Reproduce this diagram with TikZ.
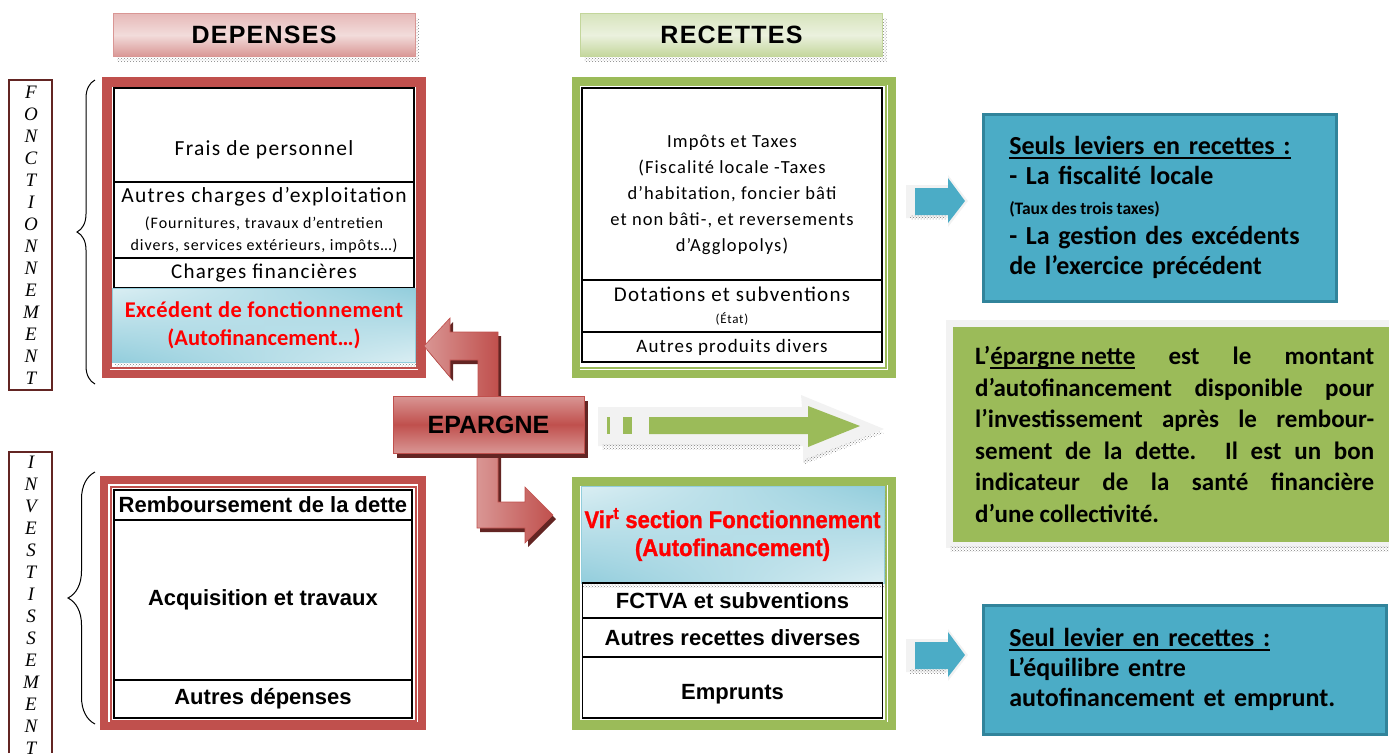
\documentclass[tikz,border=0pt]{standalone}
\usepackage{fontspec}
\setmainfont{Carlito}
\newfontfamily\calf{Carlito}[LetterSpace=6]
\newfontfamily\arialf{Liberation Sans}
\newfontfamily\arialsp{Liberation Sans}[LetterSpace=5]
\newfontfamily\virf{Liberation Sans}[FakeStretch=0.92,BoldFeatures={FakeBold=1.2}]
\newfontfamily\lettref{Liberation Serif}
\usetikzlibrary{positioning,patterns,shadows,shadings,decorations.pathreplacing}

\definecolor{rouge}{HTML}{C0504D}
\definecolor{rougec}{HTML}{D99694}
\definecolor{rougep}{HTML}{F2DCDB}
\definecolor{rosem}{HTML}{E6B9B8}
\definecolor{rougef}{HTML}{632523}
\definecolor{vert}{HTML}{9BBB59}
\definecolor{vertc}{HTML}{C3D69B}
\definecolor{vertm}{HTML}{D7E4BD}
\definecolor{vertp}{HTML}{EBF1DE}
\definecolor{bleu}{HTML}{4BACC6}
\definecolor{bleuf}{HTML}{31849B}
\definecolor{bleum}{HTML}{92CDDC}
\definecolor{bleup}{HTML}{DAEEF3}
\definecolor{grisc}{HTML}{F2F2F2}
\definecolor{rougetxt}{HTML}{FF0000}

\newcommand{\fsz}[2]{\fontsize{#1}{#2}\selectfont}
\newcommand{\souligne}[1]{\setbox0\hbox{#1}\rlap{\rule[-4pt]{\wd0}{1.5pt}}\box0{}}

\tikzset{
  cell/.style={draw,line width=1.6,minimum width=300,inner sep=0,outer sep=0,align=center,font=\calf\fsz{21}{25}},
  acell/.style={cell,minimum width=298,font=\arialf\bfseries\fsz{22}{25}},
  ombre/.style={pattern=crosshatch dots,pattern color=gray},
  bleucell/.style={cell,draw=bleum,line width=1,upper left=bleup,upper right=bleum,lower left=bleum,lower right=bleup,
    drop shadow={ombre,opacity=1,shadow xshift=2pt,shadow yshift=-4pt}},
  entete/.style={draw=#1,line width=1,minimum width=302,minimum height=43,inner sep=0,
    font=\arialsp\bfseries\fsz{25}{28},drop shadow={ombre,opacity=1,shadow xshift=4pt,shadow yshift=-5pt}},
  lettre/.style={inner sep=0,font=\lettref\itshape\fsz{19}{20}},
  levier/.style={draw=bleuf,line width=2.5,fill=bleu,anchor=north west,inner xsep=26,inner ysep=0,align=left,font=\bfseries\fsz{26}{30}},
  fleche/.style={draw=rouge,line width=.6,left color=rougec,right color=rouge},
}

\begin{document}
\begin{tikzpicture}[x=1pt,y=-1pt]
\useasboundingbox (0,0) rectangle (1389,753);

% en-tetes
\node[entete=rougec,top color=rosem,bottom color=rougec,middle color=rougep] (dep) at (264,35) {DEPENSES};
\node[entete=vertc,top color=vertm,bottom color=vertc,middle color=vertp] (rec) at (731.5,35) {RECETTES};

% sections
\draw[rougef,line width=1.5] (9,80) rectangle (52,390);
\foreach \l [count=\i] in {F,O,N,C,T,I,O,N,N,E,M,E,N,T}
  \node[lettre] (fonc\i) at (31,70+22*\i) {\l};
\draw[rougef,line width=1.5] (9,753) |- (52,452) -- (52,753);
\foreach \l [count=\i] in {I,N,V,E,S,T,I,S,S,E,M,E,N,T}
  \node[lettre] (inv\i) at (31,440+22*\i) {\l};
\draw[decorate,decoration={brace,amplitude=18pt},line width=1] (95,384) -- (95,80);
\draw[decorate,decoration={brace,amplitude=27pt},line width=1] (95,724) -- (95,472);

% depenses de fonctionnement
\draw[rouge,line width=8] (106,81) rectangle (422,374);
\draw[rouge,line width=1.2] (111,86) rectangle (417,368);
\node[cell,anchor=north west,minimum height=94] (frais) at (114,88) {};
\node[font=\calf\fsz{21.5}{25}] (tfrais) at ([yshift=-15pt]frais.center) {Frais de personnel};
\node[cell,minimum height=76,below=0pt of frais,font=\calf\fsz{21.5}{25}] (autch) {Autres charges d’exploitation\\[1pt]{\fsz{16}{20}(Fournitures, travaux d’entretien}\\[-3pt]{\fsz{16}{20}divers, services extérieurs, impôts…)}};
\node[cell,minimum height=30,below=0pt of autch] (chfin) {Charges financières};
\node[bleucell,minimum width=303,minimum height=74,below=0pt of chfin,font=\bfseries\fsz{22.5}{28},text=rougetxt] (exced) {{\addfontfeature{LetterSpace=2}Excédent de fonctionnement}\\(Autofinancement…)};

% recettes de fonctionnement
\draw[vert,line width=8] (576,81) rectangle (892,374);
\draw[vert,line width=1.2] (579,85) rectangle (886,368);
\node[cell,anchor=north west,minimum height=192] (impots) at (582,88) {};
\node[font=\calf\fsz{18.5}{26},align=center] (timpots) at ([yshift=-11pt]impots.center) {Impôts et Taxes\\(Fiscalité locale -Taxes\\d’habitation, foncier bâti\\et non bâti-, et reversements\\d’Agglopolys)};
\node[cell,minimum height=52,below=0pt of impots,font=\calf\fsz{21}{25}] (dotat) {Dotations et subventions\\[-3pt]{\fsz{13}{16}(État)}};
\node[cell,minimum height=30,below=0pt of dotat,font=\calf\fsz{19}{25}] (autprod) {Autres produits divers};

% depenses d'investissement
\draw[rouge,line width=8] (104,480) rectangle (422,726);
\draw[rouge,line width=1.2] (111,487) rectangle (416,721);
\node[acell,anchor=north west,minimum height=30] (rembt) at (114,490) {Remboursement de la dette};
\node[acell,minimum height=160,below=0pt of rembt] (acquis) {Acquisition et travaux};
\node[acell,minimum height=38,below=0pt of acquis] (autdep) {Autres dépenses};

% recettes d'investissement
\draw[vert,line width=8] (576,481) rectangle (892,726);
\draw[vert,line width=1.2] (579,485) rectangle (886,721);
\node[bleucell,anchor=north west,minimum width=303,minimum height=97,font=\virf\bfseries\fsz{24}{28},text=rougetxt] (vir) at (581,486) {Vir\textsuperscript{t} section Fonctionnement\\(Autofinancement)};
\node[acell,minimum width=300,minimum height=35,below=0pt of vir] (fctva) {FCTVA et subventions};
\node[acell,minimum width=300,minimum height=39,below=0pt of fctva] (autrec) {Autres recettes diverses};
\node[acell,minimum width=300,minimum height=61,below=0pt of autrec] (empr) {};
\node[font=\arialf\bfseries\fsz{22}{25}] (tempr) at ([yshift=-7pt]empr.center) {Emprunts};

% epargne
\fill[rougef,shift={(3,4)}] (478,400) -- (478,360) -- (450,360) -- (450,377) -- (424,346) -- (450,318) -- (450,332) -- (498,332) -- (498,400) -- cycle;
\fill[rougef,shift={(3,4)}] (477,450) -- (477,528) -- (525,528) -- (525,543) -- (553,515) -- (525,487) -- (525,502) -- (498,502) -- (498,450) -- cycle;
\draw[fleche] (478,400) -- (478,360) -- (450,360) -- (450,377) -- (424,346) -- (450,318) -- (450,332) -- (498,332) -- (498,400) -- cycle;
\draw[fleche] (477,450) -- (477,528) -- (525,528) -- (525,543) -- (553,515) -- (525,487) -- (525,502) -- (498,502) -- (498,450) -- cycle;
\node[draw=rouge,line width=1,minimum width=191,minimum height=57,inner sep=0,top color=rougec,bottom color=rougec,middle color=rouge,
  font=\arialf\bfseries\fsz{25}{28},drop shadow={fill=rougef,opacity=1,shadow xshift=4pt,shadow yshift=-5pt}] (ep) at (488.5,424.5) {EPARGNE};

\fill[grisc] (598,407) -- (802,407) -- (801,395) -- (884,429) -- (803,463) -- (803,446) -- (598,446) -- cycle;
\fill[ombre] (602,444) rectangle (800,449);
\fill[ombre] (803,460) -- (880,431) -- (884,433) -- (805,464) -- cycle;
\fill[vert] (607,417) rectangle (610,434);
\fill[vert] (623,417) rectangle (632,434);
\fill[vert] (649,417) -- (808,417) -- (808,406) -- (860,426) -- (808,447) -- (808,434) -- (649,434) -- cycle;

% leviers
\foreach \yc in {201,655}{
  \fill[grisc] (906,\yc-16) -- (948,\yc-16) -- (948,\yc-26) -- (968,\yc) -- (948,\yc+26) -- (948,\yc+17) -- (906,\yc+17) -- cycle;
  \fill[ombre] (910,\yc+14) rectangle (946,\yc+18);
  \fill[bleu] (915,\yc-13) -- (948,\yc-13) -- (948,\yc-23) -- (965,\yc) -- (948,\yc+22) -- (948,\yc+14) -- (915,\yc+14) -- cycle;
}
\node[levier,minimum width=353,minimum height=187,text width=301] (lev1) at (982,113)
  {\souligne{Seuls leviers en recettes :}\\- La fiscalité locale\\{\fsz{17.5}{20}\spaceskip=.2em(Taux des trois taxes)}\\- La gestion des excédents\\de l’exercice précédent};
\node[levier,minimum width=403,minimum height=129,text width=351] (lev2) at (982,604)
  {\souligne{Seul levier en recettes :}\\L’équilibre entre\\autofinancement et emprunt.};

% epargne nette
\fill[grisc] (946,320) rectangle (1389,548);
\fill[ombre] (950,546) rectangle (1389,551);
\node[anchor=north west,fill=vert,minimum height=215,text width=399,inner xsep=22,inner ysep=0,align=justify,font=\bfseries\fsz{25}{31.5}] (epn) at (953,327)
  {L’\souligne{épargne nette} est le montant\linebreak d’autofinancement disponible pour\linebreak l’investissement après le rembour-\linebreak sement de la dette. Il est un bon\linebreak indicateur de la santé financière\linebreak d’une collectivité.};
\end{tikzpicture}
\end{document}
